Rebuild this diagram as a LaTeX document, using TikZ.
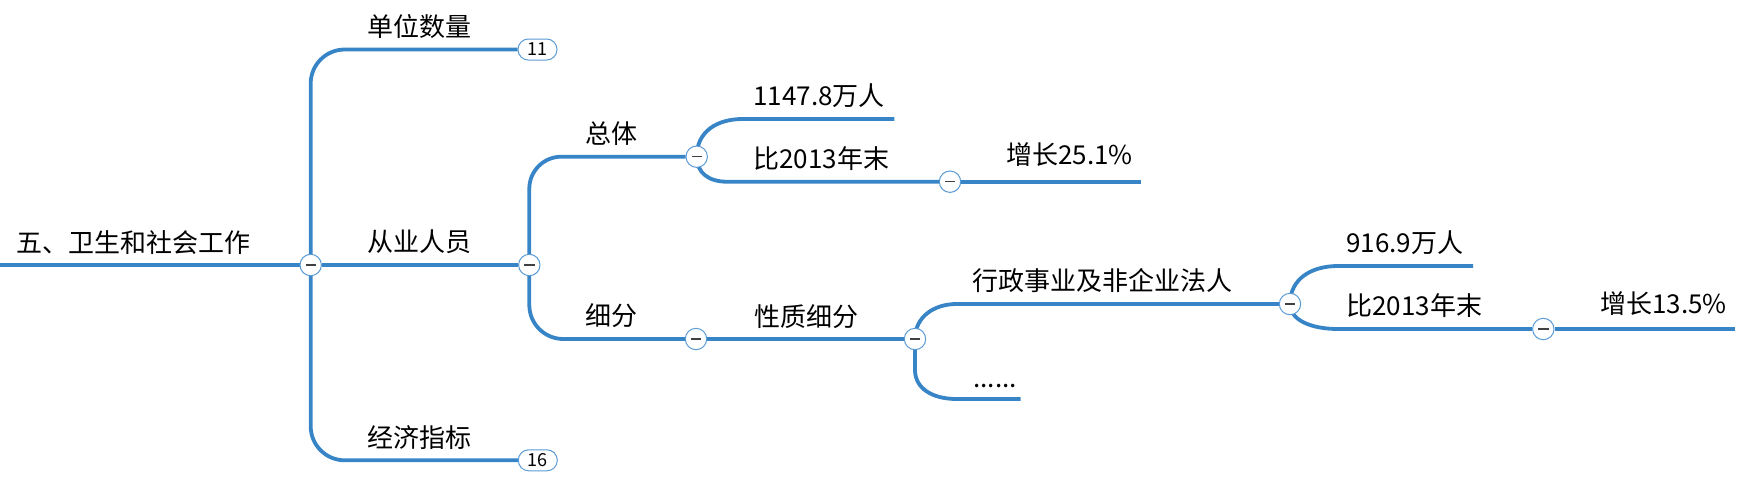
\documentclass[tikz,border=0pt]{standalone}
\usepackage{fontspec}
\setmainfont{Noto Sans CJK SC}
\usetikzlibrary{backgrounds}
\definecolor{linkblue}{HTML}{3784C6}
\definecolor{ringblue}{HTML}{5B9BD5}
\definecolor{signgray}{HTML}{404040}
\begin{document}
\begin{tikzpicture}[x=0.5pt,y=-0.5pt]
    \tikzset{link/.style={draw=linkblue,line width=1.9pt},
        fold/.style={circle,draw=ringblue,fill=white,line width=0.5pt,inner sep=0pt,minimum size=10.7pt,
            path picture={\draw[signgray,line width=0.7pt] ([xshift=-2.6pt]path picture bounding box.center) -- ([xshift=2.6pt]path picture bounding box.center);}},
        badge/.style={rounded corners=5.2pt,draw=ringblue,fill=white,line width=0.5pt,inner sep=0pt,
            minimum width=19.5pt,minimum height=10.5pt,font=\fontsize{9}{10}\selectfont},
        topic/.style={anchor=base west,inner sep=0pt,font=\fontsize{13}{15}\selectfont}};
    \useasboundingbox (0,0) rectangle (1752,483);
    % fold circles and badges
    \node[fold] (c0) at (310.7,265) {};
    \node[fold] (c1) at (529.3,265) {};
    \node[fold] (c2) at (696.7,156.7) {};
    \node[fold] (c3) at (696,339) {};
    \node[fold] (c4) at (950,181.7) {};
    \node[fold] (c5) at (915,339) {};
    \node[fold] (c6) at (1290,304) {};
    \node[fold] (c7) at (1543.3,329) {};
    \node[badge] (b1) at (537.5,49.5) {11};
    \node[badge] (b2) at (537.8,460.3) {16};
    \coordinate (s0) at (0,265);
    \coordinate (e1) at (894.3,119);
    \coordinate (e2) at (1141,181.7);
    \coordinate (e3) at (1020.7,399);
    \coordinate (e4) at (1473,266);
    \coordinate (e5) at (1735,329);
    % topics
    \node[topic] (root) at (16,252) {五、卫生和社会工作};
    \node[topic] (units) at (367,36) {单位数量};
    \node[topic] (staff) at (367,251) {从业人员};
    \node[topic] (econ) at (367,447) {经济指标};
    \node[topic] (total) at (585.5,143) {总体};
    \node[topic] (split) at (585.5,325) {细分};
    \node[topic] (total num) at (753,105) {1147.8万人};
    \node[topic] (total cmp) at (753,168) {比2013年末};
    \node[topic] (total rise) at (1006,164.5) {增长25.1\%};
    \node[topic] (kind) at (754,326) {性质细分};
    \node[topic] (admin) at (972,290.5) {行政事业及非企业法人};
    \node[topic] (more) at (973,387) {......};
    \node[topic] (admin num) at (1346,252.5) {916.9万人};
    \node[topic] (admin cmp) at (1346,315.5) {比2013年末};
    \node[topic] (admin rise) at (1600,313) {增长13.5\%};
    % branches
    \begin{scope}[on background layer]
        \draw[link] (s0) -- (c0) -- (c1);
        \draw[link,rounded corners=17pt] (c0.center) |- (b1);
        \draw[link,rounded corners=17pt] (c0.center) |- (b2);
        \draw[link,rounded corners=16pt] (c1.center) |- (c2);
        \draw[link,rounded corners=17pt] (c1.center) |- (c3);
        \draw[link] (c2.center) .. controls +(0,-25) and +(-26,0) .. ++(46,-37.7) -- (e1);
        \draw[link] (c2.center) .. controls +(0,16) and +(-18,0) .. ++(30,25) -- (c4);
        \draw[link] (c4) -- (e2);
        \draw[link] (c3) -- (c5);
        \draw[link] (c5.center) .. controls +(0,-22) and +(-23,0) .. ++(41.7,-35) -- (c6);
        \draw[link] (c5.center) -- ++(0,31) .. controls +(0,18) and +(-25,0) .. ++(41.7,29) -- (e3);
        \draw[link] (c6.center) .. controls +(0,-25) and +(-27,0) .. ++(48,-38) -- (e4);
        \draw[link] (c6.center) .. controls +(0,16) and +(-27,0) .. ++(48,25) -- (c7);
        \draw[link] (c7) -- (e5);
    \end{scope}
\end{tikzpicture}
\end{document}
